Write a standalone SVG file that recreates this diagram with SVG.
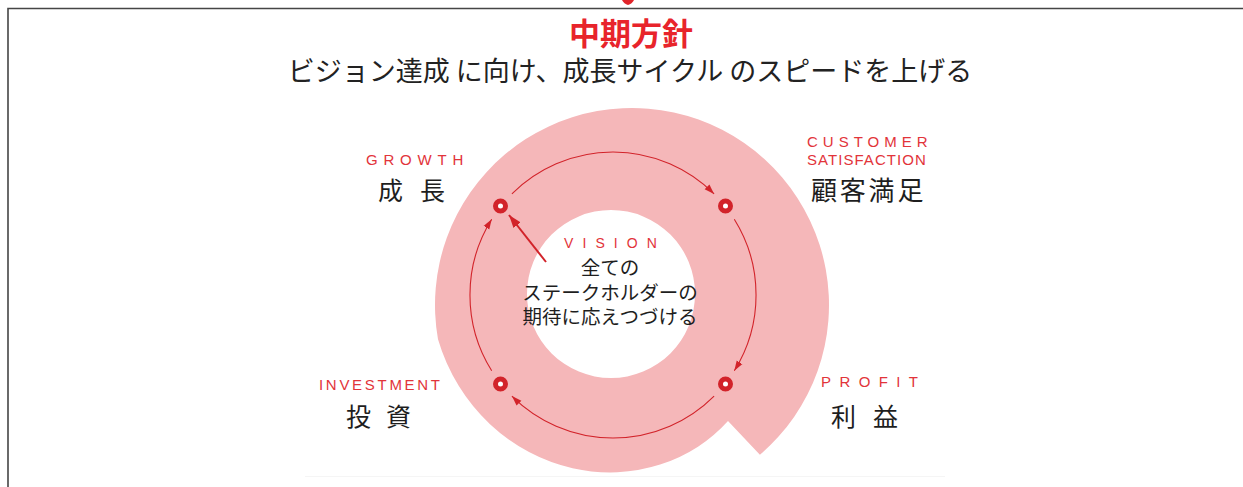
<svg xmlns="http://www.w3.org/2000/svg" width="1243" height="487" viewBox="0 0 1243 487">
<style>
.en{font-family:"Liberation Sans","Noto Sans",sans-serif;font-size:15px;fill:#e2343a}
.jp{font-family:"Noto Sans CJK JP","Noto Sans",sans-serif;fill:#1e1e1e}
.lbl{font-size:25px}
.mid{font-size:19.5px}
.conn{fill:none;stroke:#d2232a;stroke-width:1.1}
.dot{fill:#fff;stroke:#d2232a;stroke-width:5}
</style>
<defs>
<marker id="ah" markerWidth="10" markerHeight="8" refX="10" refY="4" orient="auto" markerUnits="userSpaceOnUse"><path d="M0,0.6 L10,4 L0,7.4 z" fill="#d2232a"/></marker>
<marker id="ahb" markerWidth="13" markerHeight="10" refX="13" refY="5" orient="auto" markerUnits="userSpaceOnUse"><path d="M0,0.5 L13,5 L0,9.5 z" fill="#d2232a"/></marker>
</defs>
<rect width="1243" height="487" fill="#fff"/>
<g id="frame">
<path d="M8,487 V8.5 H1243" fill="none" stroke="#454545" stroke-width="1.6"/>
<path d="M622,0 H634 Q632,4 628,5 Q624,4 622,0 Z" fill="#e0242a"/>
<line x1="305" y1="476.5" x2="945" y2="476.5" stroke="#f5f5f5" stroke-width="1"/>
</g>
<g id="title">
<text x="631" y="45" text-anchor="middle" class="jp" style="font-size:31px;font-weight:bold;fill:#e8242b">中期方針</text>
<text x="630" y="81" text-anchor="middle" class="jp" style="font-size:27px;fill:#222">ビジョン達成 に向け、成長サイクル のスピードを上げる</text>
</g>
<g id="cycle-band">
<path fill="#f5b7b9" fill-rule="evenodd" d="M728,421 A153,153 0 0 1 698,446.7 A159,159 0 0 1 660.1,464.6 A165,165 0 0 1 617.4,472.3 A171,171 0 0 1 572.6,468.2 A177,177 0 0 1 529,452 A182,182 0 0 1 490,424.2 A188,188 0 0 1 458.7,385.8 A194,194 0 0 1 438,339.2 A197,197 0 1 1 759.9,454.8 Z M695,294 A84,84 0 1 0 527,294 A84,84 0 1 0 695,294 Z"/>
</g>
<g id="connectors">
<path class="conn" d="M511.9,193.9 A143,143 0 0 1 714.1,193.9" marker-end="url(#ah)"/>
<path class="conn" d="M734.3,219.2 A143,143 0 0 1 734.3,370.8" marker-end="url(#ah)"/>
<path class="conn" d="M714.1,396.1 A143,143 0 0 1 511.9,396.1" marker-end="url(#ah)"/>
<path class="conn" d="M491.7,370.8 A143,143 0 0 1 491.7,219.2" marker-end="url(#ah)"/>
<path class="conn" style="stroke-width:2" d="M546,262 L509,215" marker-end="url(#ahb)"/>
</g>
<g id="node-growth">
<circle class="dot" cx="500.5" cy="206" r="5"/>
<text x="366" y="164.5" class="en" letter-spacing="5.8">GROWTH</text>
<text x="378" y="200" class="jp lbl" letter-spacing="17">成長</text>
</g>
<g id="node-customer">
<circle class="dot" cx="725.5" cy="206" r="5"/>
<text x="807" y="147" class="en" letter-spacing="5">CUSTOMER</text>
<text x="807" y="165" class="en" letter-spacing="1.05">SATISFACTION</text>
<text x="811" y="200" class="jp" style="font-size:26px" letter-spacing="2.8">顧客満足</text>
</g>
<g id="node-profit">
<circle class="dot" cx="725.5" cy="384" r="5"/>
<text x="821" y="387" class="en" letter-spacing="8.4">PROFIT</text>
<text x="831" y="426" class="jp lbl" letter-spacing="17">利益</text>
</g>
<g id="node-investment">
<circle class="dot" cx="500.5" cy="384" r="5"/>
<text x="319" y="390" class="en" letter-spacing="2.7">INVESTMENT</text>
<text x="346" y="426" class="jp lbl" letter-spacing="15">投資</text>
</g>
<g id="node-vision">
<text x="564" y="248" class="en" style="font-size:14px" letter-spacing="9.1">VISION</text>
<text text-anchor="middle" class="jp mid"><tspan x="610" y="275">全ての</tspan><tspan x="610" y="299.5">ステークホルダーの</tspan><tspan x="610" y="324">期待に応えつづける</tspan></text>
</g>
</svg>
